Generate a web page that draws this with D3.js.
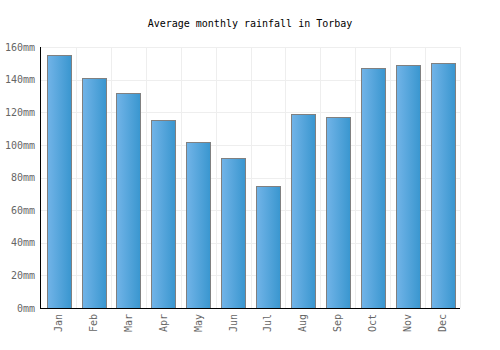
<!DOCTYPE html>
<html>
<head>
<meta charset="utf-8">
<script src="https://cdn.jsdelivr.net/npm/d3@7"></script>
<style>
  body { margin: 0; background: #fff; }
  text { font-family: "DejaVu Sans Mono", monospace; }
</style>
</head>
<body>
<svg id="chart" width="500" height="350"></svg>
<script>
var months = ["Jan", "Feb", "Mar", "Apr", "May", "Jun", "Jul", "Aug", "Sep", "Oct", "Nov", "Dec"];
var rainfall = [155, 141, 132, 115, 102, 92, 75, 119, 117, 147, 149, 150];
var yTicks = [0, 20, 40, 60, 80, 100, 120, 140, 160];

var margin = { top: 47, right: 40, bottom: 42, left: 41 },
  width = 500 - margin.left - margin.right,
  height = 350 - margin.top - margin.bottom;

var svg = d3.select("#chart");

var defs = svg.append("defs");
var grad = defs.append("linearGradient")
  .attr("id", "barFill")
  .attr("x1", "0%").attr("x2", "100%")
  .attr("y1", "0%").attr("y2", "0%");
grad.append("stop").attr("offset", "0%").attr("stop-color", "#72b4e8");
grad.append("stop").attr("offset", "100%").attr("stop-color", "#3996cf");

svg.append("text")
  .attr("x", 250)
  .attr("y", 27)
  .attr("text-anchor", "middle")
  .attr("font-size", 10)
  .attr("fill", "#000")
  .text("Average monthly rainfall in Torbay");

var g = svg.append("g")
  .attr("transform", "translate(" + margin.left + "," + margin.top + ")");

var x = d3.scaleBand().domain(months).range([0, width]).paddingInner(0.32).paddingOuter(0.16);
var bandStep = width / months.length;
var y = d3.scaleLinear().domain([0, 160]).range([height, 0]);

// grid
g.append("g").selectAll("line.h")
  .data(yTicks.slice(1))
  .enter().append("line")
  .attr("x1", 0).attr("x2", width)
  .attr("y1", function (d) { return Math.round(y(d)) + 0.5; })
  .attr("y2", function (d) { return Math.round(y(d)) + 0.5; })
  .attr("stroke", "#eeeeee");

g.append("g").selectAll("line.v")
  .data(d3.range(1, months.length + 1))
  .enter().append("line")
  .attr("x1", function (i) { return Math.round(i * bandStep) + 0.5; })
  .attr("x2", function (i) { return Math.round(i * bandStep) + 0.5; })
  .attr("y1", 0).attr("y2", height)
  .attr("stroke", "#eeeeee");

// bars
g.selectAll("rect.bar")
  .data(rainfall)
  .enter().append("rect")
  .attr("class", "bar")
  .attr("x", function (d, i) { return Math.round(x(months[i])) + 0.5; })
  .attr("y", function (d) { return Math.round(y(d)) + 0.5; })
  .attr("width", Math.round(x.bandwidth()))
  .attr("height", function (d) { return Math.round(height - y(d)); })
  .attr("fill", "url(#barFill)")
  .attr("stroke", "#808080")
  .attr("stroke-width", 1);

// y axis
var yAxis = g.append("g")
  .call(d3.axisLeft(y).tickValues(yTicks).tickSize(0).tickPadding(6)
    .tickFormat(function (d) { return d + "mm"; }));
yAxis.select(".domain").remove();
yAxis.selectAll("text").attr("font-size", 10).attr("fill", "#666").attr("font-family", "DejaVu Sans Mono, monospace");

g.append("line")
  .attr("x1", -0.5).attr("x2", -0.5)
  .attr("y1", 0).attr("y2", height + 0.5)
  .attr("stroke", "#000");

// x axis
var xAxis = g.append("g")
  .attr("transform", "translate(0," + height + ")")
  .call(d3.axisBottom(x).tickSize(0));
xAxis.select(".domain").remove();
xAxis.selectAll("text")
  .attr("font-size", 10)
  .attr("fill", "#666")
  .attr("font-family", "DejaVu Sans Mono, monospace")
  .attr("transform", "rotate(-90)")
  .attr("text-anchor", "end")
  .attr("dx", "-0.6em")
  .attr("dy", "0.35em")
  .attr("x", 0)
  .attr("y", 0);

g.append("line")
  .attr("x1", -1).attr("x2", width)
  .attr("y1", height + 0.5).attr("y2", height + 0.5)
  .attr("stroke", "#000");
</script>
</body>
</html>
